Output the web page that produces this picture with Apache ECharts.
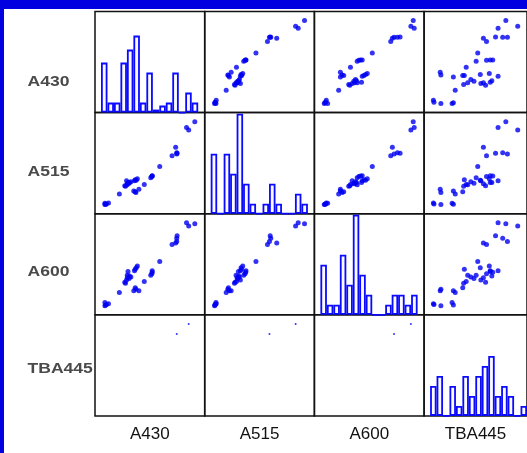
<!DOCTYPE html>
<html>
<head>
<meta charset="utf-8">
<script src="https://cdn.jsdelivr.net/npm/echarts@6/dist/echarts.min.js"></script>
<style>
html,body{margin:0;padding:0;background:#0000e0;width:527px;height:453px;overflow:hidden;}
#main{position:absolute;left:4px;top:9px;width:523px;height:444px;background:#fff;}
</style>
</head>
<body>
<div id="main"></div>
<script>
// variables of the scatter matrix (relative scale 0-100)
var names = ['A430', 'A515', 'A600', 'TBA445'];
var a430 = [100, 93.2, 90.8, 80.3, 79.9, 79.9, 78.7, 74.7, 61.0, 52.6, 52.2, 51.0, 52.6, 43.8, 37.8, 34.5, 33.7, 32.1, 36.1, 33.7, 34.9, 32.9, 28.9, 26.9, 25.7, 24.9, 24.1, 22.9, 24.9, 27.3, 22.1, 16.1, 4.0, 1.6, 0, 0, 0.8];
var a515 = [100, 90.1, 93.0, 61.8, 62.5, 61.0, 69.1, 58.8, 46.0, 34.9, 33.8, 32.4, 34.6, 24.3, 18.4, 14.7, 15.4, 16.5, 31.3, 30.1, 29.4, 28.7, 27.6, 25.7, 26.5, 23.9, 28.7, 22.1, 25.0, 26.8, 22.8, 12.9, 1.8, 0.7, 0, 1.5, 0.4];
var a600 = [98.9, 96.3, 100, 84.3, 81.3, 77.6, 75.7, 73.9, 53.4, 42.2, 38.4, 36.6, 40.3, 29.1, 17.9, 19.8, 21.6, 17.9, 47.8, 44.0, 45.9, 42.2, 34.7, 32.8, 41.4, 36.6, 31.0, 27.2, 33.6, 35.8, 28.4, 16.0, 2.2, 1.5, 0, 3.7, 0.7];
var tba445 = [85.9, 100, 76.7, 73.7, 82.2, 87.8, 59.3, 63.0, 52.6, 67.4, 63.0, 50.7, 70.4, 38.9, 8.1, 8.9, 34.8, 23.7, 66.3, 36.7, 55.6, 76.7, 44.4, 48.1, 67.4, 40.7, 56.3, 35.9, 59.3, 69.3, 61.9, 25.9, 0, 0.7, 8.9, 22.2, 23.7];
// histogram bar heights (15 bins each)
var hist430 = [5, 1, 1, 5, 6.3, 7.7, 1, 4, 0.3, 0.7, 1, 4, 0, 2, 1];
var hist515 = [6, 0, 6, 4, 10, 3, 1, 0, 1, 3, 1, 0, 0, 2, 1];
var hist600 = [5, 1, 1, 6, 3, 10, 4, 2, 0, 0, 1, 2, 2, 1, 2];
var hist445 = [3, 4, 0, 3, 1, 4, 2, 4, 5, 6, 2, 3, 2, 0, 1];
// only these observations show up in the TBA445 row
var tbaShown = [1, 5];

var cols = [a430, a515, a600, tba445];
var hists = [hist430, hist515, hist600, hist445];
var bins = hist430.map(function (v, i) { return 'b' + i; });

// layout
var cellW = 109.7, cellH = 101.1, x0 = 91, y0 = 2.5;
var labelY = [72.7, 162.7, 262.7, 360.3];
var blue = '#0000f0';

var grid = [], xAxis = [], yAxis = [], series = [];
for (var i = 0; i < 4; i++) {
    for (var j = 0; j < 4; j++) {
        var gi = grid.length;
        grid.push({
            left: x0 + j * cellW, top: y0 + i * cellH,
            width: cellW, height: cellH,
            show: true, borderColor: '#111', borderWidth: 1.5,
            backgroundColor: 'transparent'
        });
        var bottomRow = i == 3;
        xAxis.push({
            type: 'value', gridIndex: gi, min: -11, max: 111,
            show: bottomRow,
            name: bottomRow ? names[j] : '',
            nameLocation: 'middle', nameGap: 10,
            nameTextStyle: {fontSize: 17, color: '#111', fontFamily: 'Liberation Sans', verticalAlign: 'top'},
            axisLine: {show: false}, axisTick: {show: false},
            axisLabel: {show: false}, splitLine: {show: false}
        });
        yAxis.push({type: 'value', gridIndex: gi, min: -11, max: 111, show: false});

        if (i == j) continue;
        var idx = [];
        if (i == 3) idx = tbaShown;
        else for (var k = 0; k < a430.length; k++) idx.push(k);
        series.push({
            type: 'scatter', xAxisIndex: gi, yAxisIndex: gi,
            symbolSize: i == 3 ? 2 : 5,
            itemStyle: {color: blue},
            silent: true,
            data: idx.map(function (k) { return [cols[j][k], cols[i][k]]; })
        });
    }
}

// histograms on the diagonal
for (var d = 0; d < 4; d++) {
    var hi = grid.length;
    grid.push({
        left: x0 + d * cellW + 6, top: y0 + d * cellH,
        width: cellW - 12.5, height: cellH
    });
    xAxis.push({type: 'category', gridIndex: hi, data: bins, show: false});
    yAxis.push({type: 'value', gridIndex: hi, min: 0, max: cellH / 10, show: false});
    series.push({
        type: 'bar', xAxisIndex: hi, yAxisIndex: hi,
        barWidth: '100%', barCategoryGap: '0%',
        itemStyle: {color: '#fbfbff', borderColor: '#0a0aff', borderWidth: 1.8},
        silent: true,
        data: hists[d]
    });
}

var myChart = echarts.init(document.getElementById('main'));
myChart.setOption({
    animation: false,
    backgroundColor: '#fff',
    grid: grid,
    xAxis: xAxis,
    yAxis: yAxis,
    graphic: names.map(function (n, i) {
        return {
            type: 'text', x: 23.5, y: labelY[i], scaleX: 1.17,
            style: {
                text: n, font: 'bold 15px "Liberation Sans"', fill: '#4a4a4a',
                align: 'left', verticalAlign: 'middle',
                shadowColor: '#888', shadowBlur: 2
            }
        };
    }),
    series: series
});
</script>
</body>
</html>
